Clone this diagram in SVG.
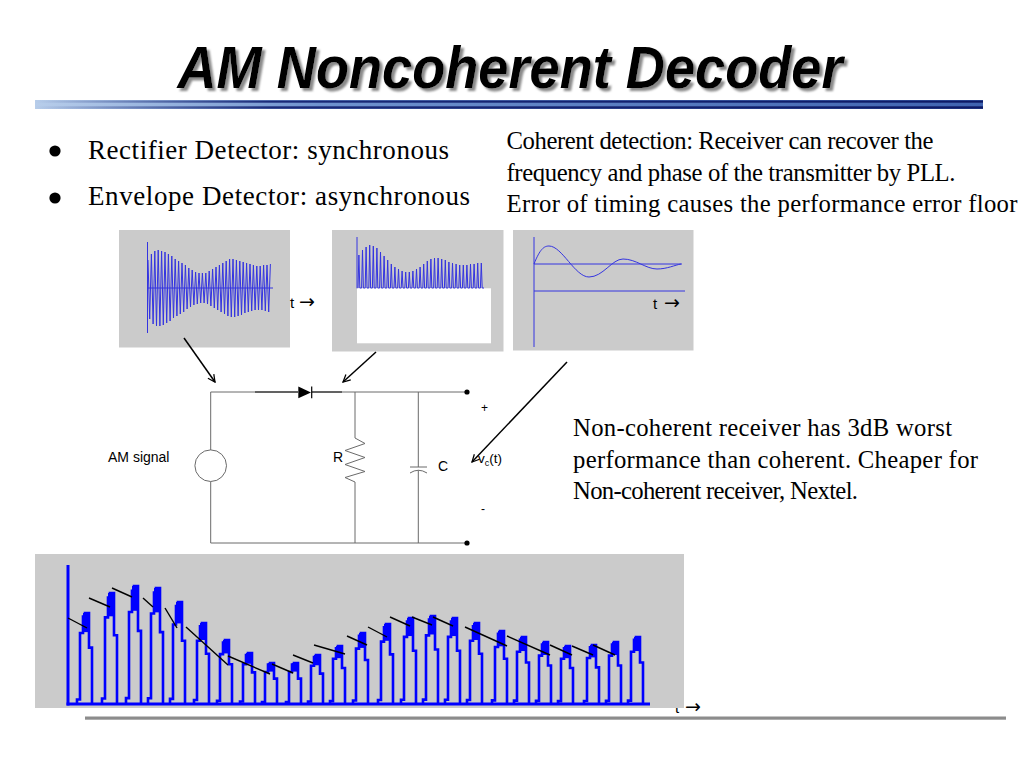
<svg xmlns="http://www.w3.org/2000/svg" xmlns:xlink="http://www.w3.org/1999/xlink" width="1024" height="768" viewBox="0 0 1024 768">
<defs>
<style>
.serif{font-family:"Liberation Serif","Times New Roman",serif;fill:#000}
.sans{font-family:"Liberation Sans",Arial,sans-serif;fill:#000}
.arr{font-family:"DejaVu Sans",sans-serif}
.panel{fill:#cbcbcb}
.wave{fill:none;stroke:#3434e0;stroke-width:1}
.wire{fill:none;stroke:#6a6a6a;stroke-width:1}
.arrow{fill:none;stroke:#000;stroke-width:1.5;marker-end:url(#ah)}
.decay{stroke:#000;stroke-width:1.4}
</style>
<filter id="shadow" x="-5%" y="-20%" width="110%" height="150%">
<feGaussianBlur in="SourceAlpha" stdDeviation="1.2"/>
<feOffset dx="3" dy="3" result="off"/>
<feFlood flood-color="#8a8a8a"/>
<feComposite in2="off" operator="in"/>
<feMerge><feMergeNode/><feMergeNode in="SourceGraphic"/></feMerge>
</filter>
<linearGradient id="rule1" x1="0" y1="0" x2="1" y2="0">
<stop offset="0" stop-color="#b7cdea"/><stop offset="0.3" stop-color="#6f93cf"/><stop offset="1" stop-color="#3f63b0"/>
</linearGradient>
<linearGradient id="rule2" x1="0" y1="0" x2="1" y2="0">
<stop offset="0" stop-color="#1a2a78" stop-opacity="0"/><stop offset="0.25" stop-color="#1a2a78" stop-opacity="1"/><stop offset="1" stop-color="#0d1a66"/>
</linearGradient>
<marker id="ah" viewBox="0 0 10 10" refX="9" refY="5" markerWidth="9" markerHeight="9" orient="auto" markerUnits="userSpaceOnUse">
<path d="M1,1 L9,5 L1,9" fill="none" stroke="#000" stroke-width="1.4"/>
</marker>
<g id="pulse">
<path d="M0,0 V-5 H3 V-78 H6 V-96 H8 V-100 H12 V-62 H15 V0" fill="none" stroke="#0000ff" stroke-width="2.6" vector-effect="non-scaling-stroke"/>
<rect x="6" y="-100" width="6" height="21" fill="#0000ff"/>
</g>
</defs>
<rect width="1024" height="768" fill="#fff"/>

<g id="title">
<text x="510" y="88" text-anchor="middle" font-family="Liberation Sans,Arial,sans-serif" font-weight="bold" font-style="italic" font-size="60" textLength="665" lengthAdjust="spacingAndGlyphs" fill="#000" filter="url(#shadow)">AM Noncoherent Decoder</text>
</g>

<g id="header-rule">
<rect x="35" y="100" width="948" height="9" fill="url(#rule1)"/>
<rect x="35" y="100.5" width="948" height="2.2" fill="url(#rule2)"/>
<rect x="35" y="106.3" width="948" height="2.4" fill="url(#rule2)"/>
</g>

<g id="bullets">
<circle cx="55" cy="151" r="5.6" fill="#000"/>
<circle cx="55" cy="198" r="5.6" fill="#000"/>
<text class="serif" x="88" y="158.5" font-size="27" textLength="361">Rectifier Detector: synchronous</text>
<text class="serif" x="88" y="205" font-size="27" textLength="382">Envelope Detector: asynchronous</text>
</g>

<g id="coherent-note">
<text class="serif" x="506.5" y="149" font-size="24.7" textLength="427">Coherent detection: Receiver can recover the</text>
<text class="serif" x="506.5" y="180.5" font-size="24.7" textLength="449">frequency and phase of the transmitter by PLL.</text>
<text class="serif" x="506.5" y="212" font-size="24.7" textLength="511">Error of timing causes the performance error floor</text>
</g>

<g id="panel-am-signal">
<rect class="panel" x="119" y="230" width="171" height="117.5"/>
<line class="wave" x1="147.5" y1="242" x2="147.5" y2="333"/>
<line class="wave" x1="147.5" y1="288" x2="273" y2="288"/>
<polyline class="wave" vector-effect="non-scaling-stroke" transform="translate(148,288) scale(1.7,1)" points="0,-28 1,31 2,-34 3,36 4,-37 5,38 6,-38 7,38 8,-37 9,37 10,-36 11,35 12,-34 13,33 14,-32 15,30 16,-29 17,28 18,-27 19,26 20,-25 21,24 22,-23 23,21 24,-20 25,19 26,-18 27,17 28,-16 29,16 30,-15 31,15 32,-15 33,15 34,-15 35,16 36,-17 37,18 38,-19 39,20 40,-21 41,22 42,-23 43,24 44,-25 45,26 46,-27 47,28 48,-29 49,29 50,-29 51,29 52,-28 53,28 54,-27 55,27 56,-26 57,25 58,-25 59,24 60,-24 61,23 62,-23 63,22 64,-22 65,22 66,-22 67,22 68,-23 69,23 70,-23 71,24 72,-24"/>
<text class="sans" x="290" y="307.5" font-size="15">t<tspan class="arr" x="299" font-size="19">→</tspan></text>
</g>

<g id="panel-rectified">
<rect class="panel" x="332" y="230" width="171.5" height="121.5"/>
<rect x="357" y="288.3" width="134" height="55" fill="#fff"/>
<line class="wave" x1="357" y1="237" x2="357" y2="288.3"/>
<polyline class="wave" vector-effect="non-scaling-stroke" transform="translate(358,288) scale(0.9,1)" points="0,0 1,-33 2,0 4,0 5,-38 6,0 8,0 9,-41 10,0 12,0 13,-43 14,0 16,0 17,-42 18,0 20,0 21,-40 22,0 24,0 25,-36 26,0 28,0 29,-32 30,0 32,0 33,-28 34,0 36,0 37,-24 38,0 40,0 41,-21 42,0 44,0 45,-19 46,0 48,0 49,-17 50,0 52,0 53,-16 54,0 56,0 57,-16 58,0 60,0 61,-17 62,0 64,0 65,-19 66,0 68,0 69,-21 70,0 72,0 73,-24 74,0 76,0 77,-27 78,0 80,0 81,-29 82,0 84,0 85,-30 86,0 88,0 89,-30 90,0 92,0 93,-29 94,0 96,0 97,-28 98,0 100,0 101,-26 102,0 104,0 105,-25 106,0 108,0 109,-24 110,0 112,0 113,-23 114,0 116,0 117,-23 118,0 120,0 121,-23 122,0 124,0 125,-24 126,0 128,0 129,-24 130,0 132,0 133,-25 134,0 136,0 137,-25 138,0 140,0"/>
</g>

<g id="panel-output">
<rect class="panel" x="513" y="230" width="180.5" height="120.5"/>
<line class="wave" x1="534" y1="237" x2="534" y2="347"/>
<line class="wave" x1="534" y1="264" x2="682" y2="264"/>
<line class="wave" x1="534" y1="291" x2="685" y2="291"/>
<path class="wave" d="M534,264 C540,249 544,246 549,246 C562,246 575,277 589,277 C603,277 612,259 623,259 C636,259 646,269 657,269 C667,269 675,265 681,264"/>
<text class="sans" x="653" y="308.5" font-size="15">t<tspan class="arr" x="664" font-size="19">→</tspan></text>
</g>

<g id="connectors">
<line class="arrow" x1="184" y1="338" x2="215" y2="382"/>
<line class="arrow" x1="376" y1="352" x2="343" y2="382"/>
<line class="arrow" x1="567" y1="362" x2="472" y2="462"/>
</g>

<g id="circuit">
<polyline class="wire" points="298,392 210.7,392 210.7,450"/>
<line class="wire" x1="312" y1="392" x2="467" y2="392"/>
<line x1="255" y1="392" x2="298" y2="392" stroke="#111" stroke-width="1"/>
<line x1="312" y1="392" x2="342" y2="392" stroke="#111" stroke-width="1"/>
<polyline class="wire" points="210.7,481.5 210.7,543 467,543"/>
<circle cx="210.7" cy="465.7" r="15.8" fill="#fff" stroke="#6a6a6a" stroke-width="1"/>
<polygon points="298.3,386.5 298.3,398.3 311,392.4" fill="#000"/>
<line x1="311.7" y1="386.5" x2="311.7" y2="398.3" stroke="#000" stroke-width="1.2"/>
<polyline class="wire" points="355,392 355,438 365,443.5 345,450.5 365,457.5 345,464.5 365,471.5 345,477.5 355,482 355,543"/>
<line class="wire" x1="418.3" y1="392" x2="418.3" y2="467"/>
<line class="wire" x1="410" y1="467" x2="427" y2="467"/>
<path class="wire" d="M410,473 Q418.3,467.5 427,473"/>
<line class="wire" x1="418.3" y1="470.3" x2="418.3" y2="543"/>
<circle cx="467" cy="392" r="2.6" fill="#000"/>
<circle cx="467" cy="543" r="2.6" fill="#000"/>
<text class="sans" x="108" y="462" font-size="14">AM signal</text>
<text class="sans" x="333" y="462" font-size="14">R</text>
<text class="sans" x="438" y="471" font-size="14">C</text>
<text class="sans" x="481" y="412" font-size="12">+</text>
<text class="sans" x="481" y="513" font-size="12">-</text>
<text class="sans" x="478" y="463" font-size="13.5">v<tspan font-size="9" dy="3">c</tspan><tspan dy="-3">(t)</tspan></text>
</g>

<g id="noncoherent-note">
<text class="serif" x="573" y="436" font-size="24.7" textLength="379">Non-coherent receiver has 3dB worst</text>
<text class="serif" x="573" y="467.5" font-size="24.7" textLength="405">performance than coherent. Cheaper for</text>
<text class="serif" x="573" y="499" font-size="24.7" textLength="285">Non-coherent receiver, Nextel.</text>
</g>

<g id="envelope-plot">
<text class="sans" x="675" y="713" font-size="15">t<tspan class="arr" x="685" font-size="19">→</tspan></text>
<rect class="panel" x="35" y="554" width="649" height="154"/>
<use xlink:href="#pulse" transform="translate(77,704) scale(1,0.91)"/>
<use xlink:href="#pulse" transform="translate(102,704) scale(1,1.11)"/>
<use xlink:href="#pulse" transform="translate(126,704) scale(1,1.18)"/>
<use xlink:href="#pulse" transform="translate(148,704) scale(1,1.16)"/>
<use xlink:href="#pulse" transform="translate(170,704) scale(1,1.02)"/>
<use xlink:href="#pulse" transform="translate(194,704) scale(1,0.81)"/>
<use xlink:href="#pulse" transform="translate(217,704) scale(1,0.64)"/>
<use xlink:href="#pulse" transform="translate(240,704) scale(1,0.51)"/>
<use xlink:href="#pulse" transform="translate(262,704) scale(1,0.41)"/>
<use xlink:href="#pulse" transform="translate(286,704) scale(1,0.41)"/>
<use xlink:href="#pulse" transform="translate(308,704) scale(1,0.49)"/>
<use xlink:href="#pulse" transform="translate(330,704) scale(1,0.58)"/>
<use xlink:href="#pulse" transform="translate(353,704) scale(1,0.71)"/>
<use xlink:href="#pulse" transform="translate(378,704) scale(1,0.80)"/>
<use xlink:href="#pulse" transform="translate(401,704) scale(1,0.86)"/>
<use xlink:href="#pulse" transform="translate(423,704) scale(1,0.88)"/>
<use xlink:href="#pulse" transform="translate(445,704) scale(1,0.86)"/>
<use xlink:href="#pulse" transform="translate(467,704) scale(1,0.81)"/>
<use xlink:href="#pulse" transform="translate(492,704) scale(1,0.73)"/>
<use xlink:href="#pulse" transform="translate(514,704) scale(1,0.67)"/>
<use xlink:href="#pulse" transform="translate(536,704) scale(1,0.62)"/>
<use xlink:href="#pulse" transform="translate(558,704) scale(1,0.58)"/>
<use xlink:href="#pulse" transform="translate(584,704) scale(1,0.59)"/>
<use xlink:href="#pulse" transform="translate(606,704) scale(1,0.62)"/>
<use xlink:href="#pulse" transform="translate(628,704) scale(1,0.67)"/>
<line x1="68" y1="565" x2="68" y2="705.5" stroke="#0000ff" stroke-width="3"/>
<line x1="66.5" y1="704" x2="650" y2="704" stroke="#0000ff" stroke-width="3"/>
<g class="decay">
<line x1="68" y1="618" x2="87" y2="628"/>
<line x1="89" y1="598" x2="110" y2="607"/>
<line x1="112" y1="588" x2="132" y2="597"/>
<line x1="143" y1="598" x2="153" y2="607"/>
<line x1="165" y1="608" x2="177" y2="628"/>
<line x1="186" y1="627" x2="228" y2="665"/>
<line x1="228" y1="656" x2="270" y2="674"/>
<line x1="272" y1="664" x2="293" y2="673"/>
<line x1="293" y1="655" x2="313" y2="663"/>
<line x1="314" y1="645" x2="345" y2="654"/>
<line x1="347" y1="636" x2="367" y2="645"/>
<line x1="368" y1="627" x2="387" y2="637"/>
<line x1="390" y1="617" x2="410" y2="626"/>
<line x1="412" y1="617" x2="432" y2="625"/>
<line x1="433" y1="617" x2="453" y2="626"/>
<line x1="465" y1="627" x2="507" y2="646"/>
<line x1="507" y1="636" x2="550" y2="655"/>
<line x1="550" y1="645" x2="572" y2="655"/>
<line x1="572" y1="646" x2="593" y2="655"/>
<line x1="593" y1="645" x2="615" y2="655"/>
</g>
</g>

<g id="footer-rule">
<rect x="85" y="716.5" width="921" height="3.2" fill="#8c8c8c"/>
</g>
</svg>
